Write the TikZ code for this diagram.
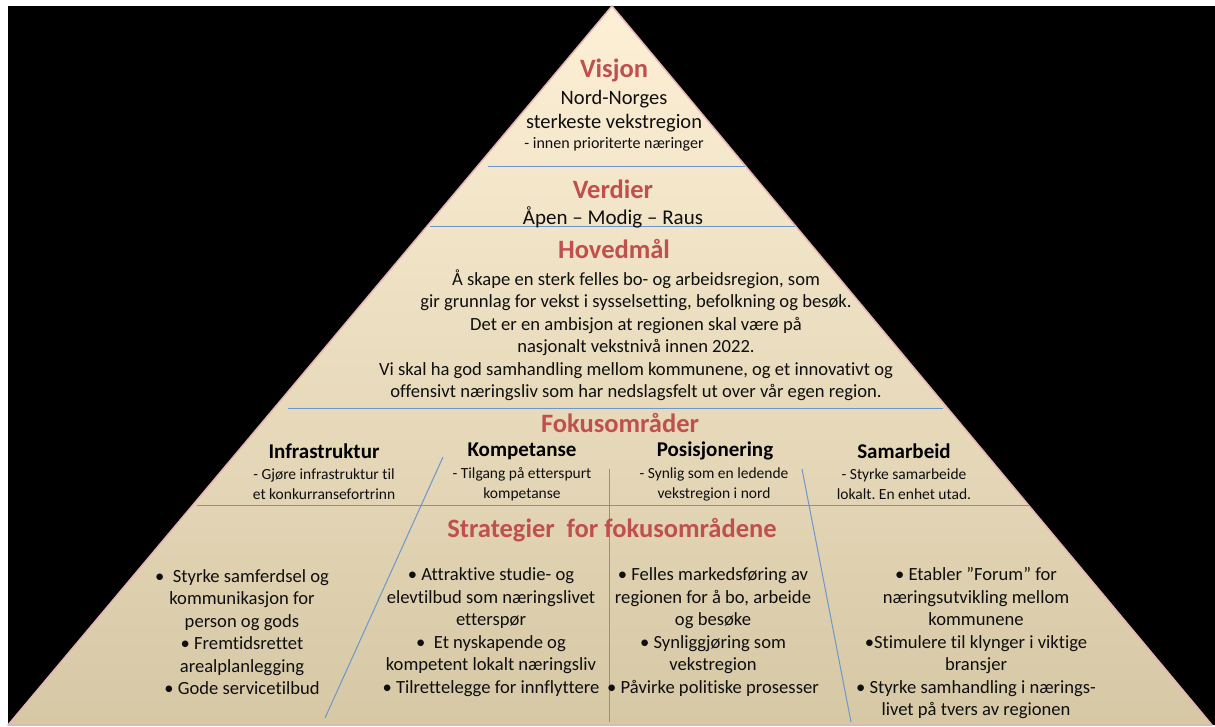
\documentclass[tikz,border=0pt]{standalone}
\usepackage{fontspec}
\setmainfont[Ligatures=NoCommon]{Carlito}
\usepackage{xcolor}
\frenchspacing

\definecolor{pyrtop}{RGB}{253,240,214}
\definecolor{pyrmid}{RGB}{246,236,210}
\definecolor{pyrbot}{RGB}{214,200,165}
\definecolor{pyredge}{RGB}{230,180,180}
\definecolor{headred}{RGB}{192,80,77}
\definecolor{sepblue}{RGB}{110,150,205}
\definecolor{textgrey}{RGB}{15,15,15}

\begin{document}
\begin{tikzpicture}[x=1pt,y=-1pt,
  level title/.style={text=headred,inner sep=0pt,font=\fontsize{26.5}{30}\selectfont\bfseries},
  body text/.style={align=center,inner sep=0pt,text=textgrey,font=\fontsize{18.6}{22.5}\selectfont},
  small text/.style={align=center,inner sep=0pt,text=textgrey,font=\fontsize{15.5}{20}\selectfont},
  area title/.style={inner sep=0pt,font=\fontsize{21}{24}\selectfont\bfseries}]
\tikzstyle{sep line} = [draw=sepblue,line width=1pt]

\useasboundingbox (0,0) rectangle (1215,727);
\fill[black] (8,6) rectangle (1215,725);

% Pyramid corners
\coordinate (apex) at (612,6);
\coordinate (baseL) at (8,725);
\coordinate (baseR) at (1212,725);

% Pyramid body
\shade[top color=pyrtop,middle color=pyrmid,bottom color=pyrbot] (apex) -- (baseL) -- (baseR) -- cycle;
\draw[draw=pyredge,line width=1.5pt,line join=round] (apex) -- (baseL) -- (baseR) -- cycle;

% Level borders
\coordinate (s1a) at (488,167);  \coordinate (s1b) at (745,167);
\coordinate (s2a) at (430,227);  \coordinate (s2b) at (795,227);
\coordinate (s3a) at (288,408);  \coordinate (s3b) at (943,408);
\coordinate (s4a) at (197,505);  \coordinate (s4b) at (1030,505);
\draw[sep line] (s1a) -- (s1b);
\draw[sep line] (s2a) -- (s2b);
\draw[sep line] (s3a) -- (s3b);
\draw[sep line] (s4a) -- (s4b);

% Column borders
\coordinate (c1a) at (443,457);  \coordinate (c1b) at (325,718);
\coordinate (c2a) at (609,469);  \coordinate (c2b) at (609,722);
\coordinate (c3a) at (802,469);  \coordinate (c3b) at (851,722);
\draw[sep line] (c1a) -- (c1b);
\draw[sep line] (c2a) -- (c2b);
\draw[sep line] (c3a) -- (c3b);

% Visjon
\node[level title] (visjon) at (614,70) {Visjon};
\node[body text,font=\fontsize{20.5}{24}\selectfont] (visjontxt) at (614,111) {Nord-Norges\\sterkeste vekstregion};
\node[small text,font=\fontsize{16}{20}\selectfont] (visjonsub) at (614,144) {- innen prioriterte næringer};

% Verdier
\node[level title] (verdier) at (613,189) {Verdier};
\node[body text,font=\fontsize{21}{24}\selectfont] (verdiertxt) at (613,217) {Åpen – Modig – Raus};

% Hovedmaal
\node[level title] (hovedmal) at (614,249) {Hovedmål};
\node[body text] (hovedmaltxt) at (636,335) {Å skape en sterk felles bo- og arbeidsregion, som\\
  gir grunnlag for vekst i sysselsetting, befolkning og besøk.\\
  Det er en ambisjon at regionen skal være på\\
  nasjonalt vekstnivå innen 2022.\\
  Vi skal ha god samhandling mellom kommunene, og et innovativt og\\
  offensivt næringsliv som har nedslagsfelt ut over vår egen region.};

% Fokusomraader
\node[level title] (fokus) at (620,423) {Fokusområder};
\node[area title] (infra) at (324,451) {Infrastruktur};
\node[area title] (komp) at (522,451) {Kompetanse};
\node[area title] (posi) at (715,451) {Posisjonering};
\node[area title] (samar) at (904,451) {Samarbeid};
\node[small text] (infratxt) at (324,484) {- Gjøre infrastruktur til\\et konkurransefortrinn};
\node[small text] (komptxt) at (522,484) {- Tilgang på etterspurt\\kompetanse};
\node[small text] (positxt) at (714,484) {- Synlig som en ledende\\vekstregion i nord};
\node[small text] (samartxt) at (904,484) {- Styrke samarbeide\\lokalt. En enhet utad.};

% Strategier
\node[level title] (strat) at (612,530) {Strategier\ \ for fokusområdene};
\node[body text] (strat1) at (242,632) {•\ \ Styrke samferdsel og\\kommunikasjon for\\person og gods\\
  • Fremtidsrettet\\arealplanlegging\\• Gode servicetilbud};
\node[body text] (strat2) at (491,632) {• Attraktive studie- og\\elevtilbud som næringslivet\\etterspør\\
  •\ \ Et nyskapende og\\kompetent lokalt næringsliv\\• Tilrettelegge for innflyttere};
\node[body text] (strat3) at (713,632) {• Felles markedsføring av\\regionen for å bo, arbeide\\og besøke\\
  • Synliggjøring som\\vekstregion\\• Påvirke politiske prosesser};
\node[body text] (strat4) at (976,643.5) {• Etabler ”Forum” for\\næringsutvikling mellom\\kommunene\\
  •Stimulere til klynger i viktige\\bransjer\\• Styrke samhandling i nærings-\\livet på tvers av regionen};

\end{tikzpicture}
\end{document}
